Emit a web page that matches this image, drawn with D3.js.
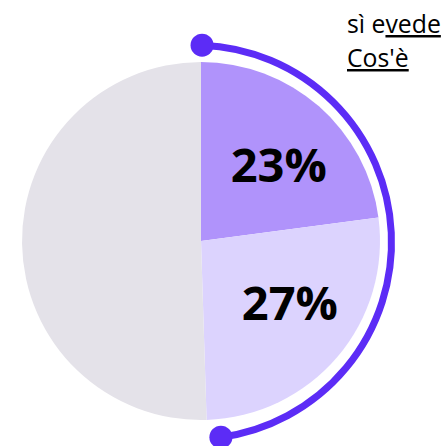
<!DOCTYPE html>
<html>
<head>
<meta charset="utf-8">
<script src="https://cdn.jsdelivr.net/npm/d3@7"></script>
<style>
  html, body { margin: 0; padding: 0; background: #fff; }
  svg { display: block; }
</style>
</head>
<body>
<svg id="chart" width="442" height="446"></svg>
<script>
// dati del grafico
var categories = ['sì', 'vede', 'altro'];
var values = [22.9, 26.6, 50.5];
var labels = ['23%', '27%', ''];
var colors = ['#b093fb', '#dcd3fe', '#e4e2e9'];
var legendLines = [['sì e', 'vede'], ['', "Cos'è"]];

var W = 442, H = 446;
var cx = 201, cy = 241, radius = 179;

var svg = d3.select('#chart');

var pie = d3.pie().sort(null).value(function (d) { return d; });
var arcs = pie(values);

var arc = d3.arc().innerRadius(0).outerRadius(radius);
var labelArc = d3.arc().innerRadius(radius * 0.6).outerRadius(radius * 0.6);

var g = svg.append('g').attr('transform', 'translate(' + cx + ',' + cy + ')');

g.selectAll('path.slice')
  .data(arcs)
  .enter().append('path')
  .attr('class', 'slice')
  .attr('d', arc)
  .attr('fill', function (d, i) { return colors[i]; });

g.selectAll('text.lbl')
  .data(arcs)
  .enter().append('text')
  .attr('class', 'lbl')
  .attr('transform', function (d) {
    var c = labelArc.centroid(d);
    // un po' verso destra e verso la linea orizzontale
    var x = c[0] + 7, y = c[1] - (c[1] < 0 ? -5 : 7);
    return 'translate(' + x + ',' + y + ')';
  })
  .attr('text-anchor', 'middle')
  .attr('dy', '0.36em')
  .style('font-family', '"Open Sans", sans-serif')
  .style('font-weight', 700)
  .style('font-size', '47px')
  .attr('fill', '#000')
  .text(function (d, i) { return labels[i]; });

// arco evidenziato con i pallini alle estremità
var hl = { x: 194.5, y: 242, r: 197, a0: 2.2, a1: 172.3 };
var toRad = Math.PI / 180;
var hg = svg.append('g').attr('transform', 'translate(' + hl.x + ',' + hl.y + ')');
var hlArc = d3.arc()
  .innerRadius(hl.r).outerRadius(hl.r)
  .startAngle(hl.a0 * toRad).endAngle(hl.a1 * toRad);
hg.append('path')
  .attr('d', hlArc())
  .attr('fill', 'none')
  .attr('stroke', '#5c2cf6')
  .attr('stroke-width', 7);

[hl.a0, hl.a1].forEach(function (a) {
  hg.append('circle')
    .attr('cx', hl.r * Math.sin(a * toRad))
    .attr('cy', -hl.r * Math.cos(a * toRad))
    .attr('r', 11.5)
    .attr('fill', '#5c2cf6');
});

// legenda in alto a destra, una riga per elemento
legendLines.forEach(function (line, i) {
  var t = svg.append('text')
    .attr('x', 347)
    .attr('y', 33 + i * 34)
    .style('font-family', '"Open Sans", sans-serif')
    .style('font-size', '24.8px')
    .attr('fill', '#000');
  if (line[0]) t.append('tspan').text(line[0]);
  t.append('tspan')
    .attr('text-decoration', 'underline')
    .text(line[1]);
});
</script>
</body>
</html>
